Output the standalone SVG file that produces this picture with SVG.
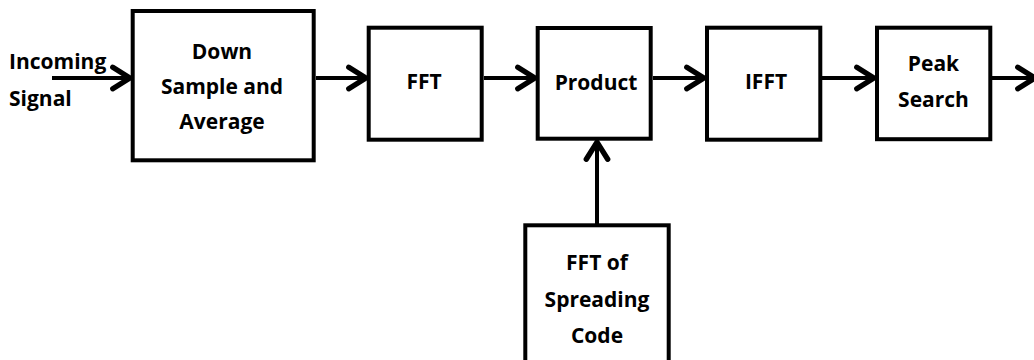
<svg xmlns="http://www.w3.org/2000/svg" width="1034" height="360" viewBox="0 0 1034 360">
  <style>
    .box { fill: #ffffff; stroke: #000000; stroke-width: 4; }
    .lbl { font-family: "Open Sans", "Liberation Sans", sans-serif; font-weight: bold; font-size: 21px; fill: #000000; text-anchor: middle; }
    .lbl-l { text-anchor: start; }
    .conn { stroke: #000000; stroke-width: 4; fill: none; marker-end: url(#arrow); }
  </style>
  <defs>
    <marker id="arrow" markerUnits="userSpaceOnUse" markerWidth="30" markerHeight="30" viewBox="-22 -14 26 28" refX="0" refY="0" orient="auto" overflow="visible">
      <path d="M-17,-10 L-1,0 L-17,10" fill="none" stroke="#000000" stroke-width="5" stroke-linecap="round" stroke-linejoin="round"/>
    </marker>
  </defs>
  <rect width="1034" height="360" fill="#ffffff"/>

  <g id="connectors">
    <line class="conn" x1="52" y1="78" x2="131" y2="78"/>
    <line class="conn" x1="316" y1="78" x2="367" y2="78"/>
    <line class="conn" x1="484" y1="78" x2="536" y2="78"/>
    <line class="conn" x1="653" y1="78" x2="705" y2="78"/>
    <line class="conn" x1="822" y1="78" x2="875" y2="78"/>
    <line class="conn" x1="992" y1="78" x2="1036" y2="78"/>
    <line class="conn" x1="597" y1="224" x2="597" y2="141"/>
  </g>

  <g id="input-label">
    <text class="lbl lbl-l" x="9" y="69">Incoming</text>
    <text class="lbl lbl-l" x="9" y="106">Signal</text>
  </g>

  <g id="downsample">
    <rect class="box" x="132.7" y="11" width="181" height="149.3"/>
    <text class="lbl" x="222" y="59">Down</text>
    <text class="lbl" x="222" y="94">Sample and</text>
    <text class="lbl" x="222" y="129">Average</text>
  </g>

  <g id="fft">
    <rect class="box" x="368.7" y="27.7" width="113" height="112"/>
    <text class="lbl" x="424" y="89">FFT</text>
  </g>

  <g id="product">
    <rect class="box" x="537.7" y="28" width="113" height="110.7"/>
    <text class="lbl" x="596" y="90">Product</text>
  </g>

  <g id="ifft">
    <rect class="box" x="707" y="27.7" width="113.3" height="112"/>
    <text class="lbl" x="766" y="89">IFFT</text>
  </g>

  <g id="peak">
    <rect class="box" x="877" y="27.7" width="113.3" height="111.5"/>
    <text class="lbl" x="933.5" y="71">Peak</text>
    <text class="lbl" x="933.5" y="106.5">Search</text>
  </g>

  <g id="fft-code">
    <rect class="box" x="525.3" y="225.3" width="143.4" height="150"/>
    <text class="lbl" x="597" y="270">FFT of</text>
    <text class="lbl" x="597" y="306.5">Spreading</text>
    <text class="lbl" x="597" y="342.5">Code</text>
  </g>
</svg>
